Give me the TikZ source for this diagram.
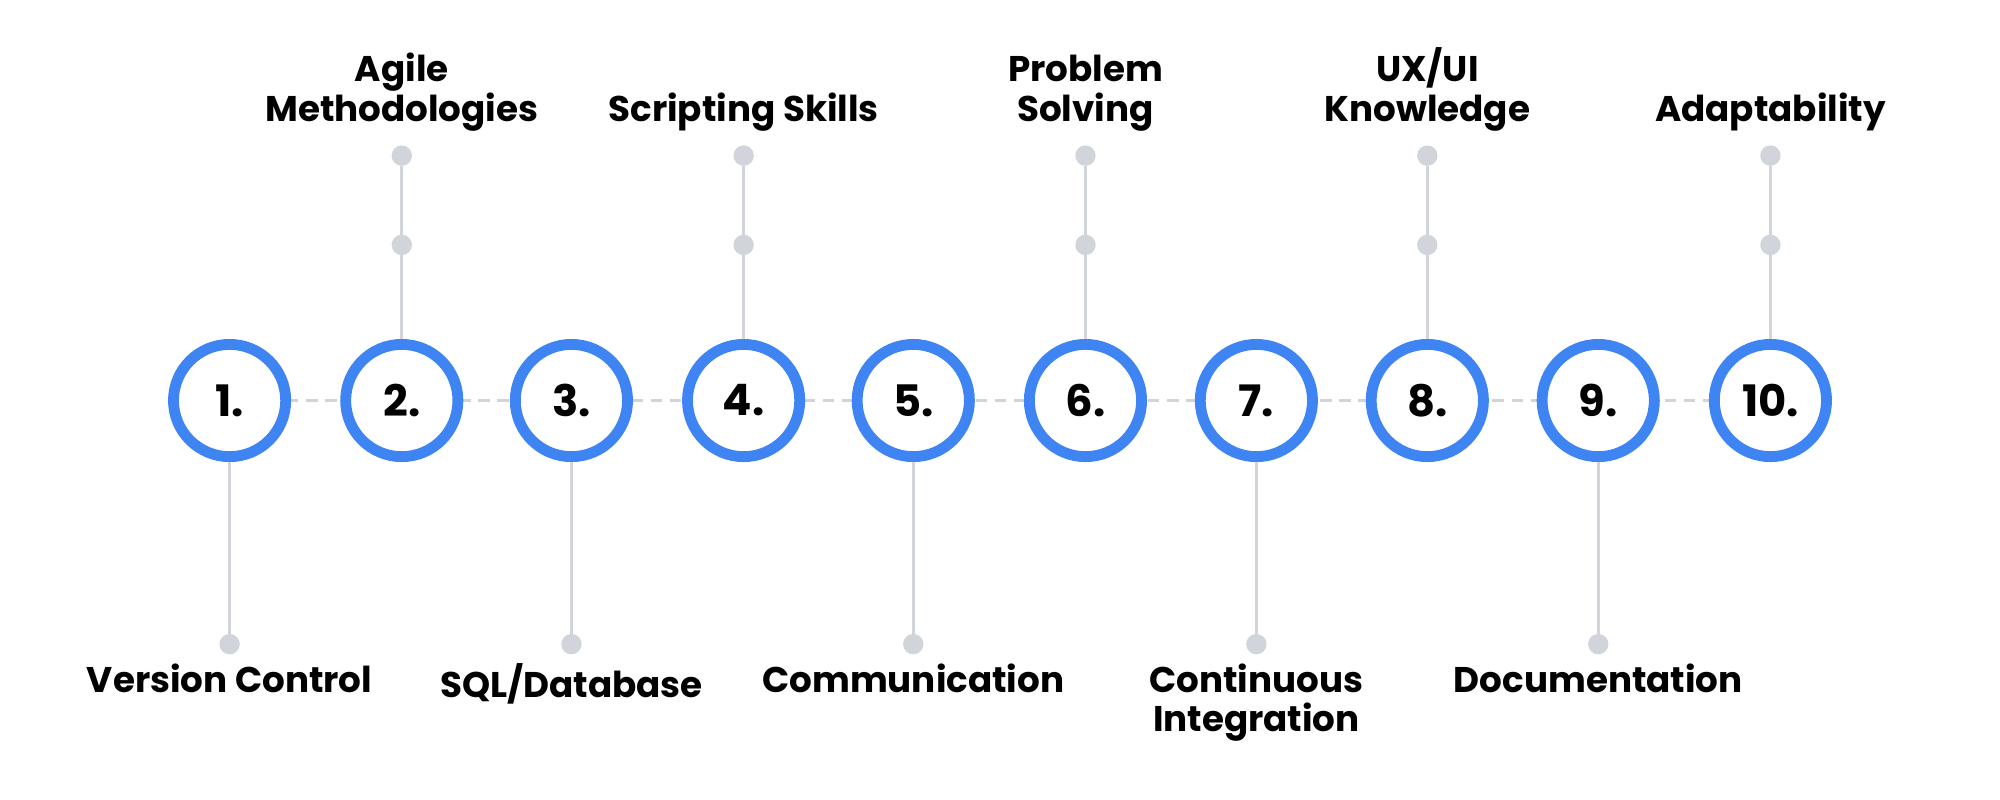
\documentclass[tikz,border=0pt]{standalone}
\usepackage{fontspec}
\setmainfont{Poppins}
\definecolor{ringblue}{HTML}{3F84F3}
\definecolor{lgrey}{HTML}{D1D5DB}
\begin{document}
\begin{tikzpicture}[x=1pt,y=-1pt,
  ring/.style={circle,draw=ringblue,line width=8.5pt,fill=white,minimum size=88pt,inner sep=0pt,font=\bfseries\fontsize{34}{34}\selectfont},
  dot/.style={circle,fill=lgrey,minimum size=16pt,inner sep=0pt},
  conn/.style={draw=lgrey,line width=2.5pt},
  lbl/.style={font=\bfseries\fontsize{28}{31}\selectfont,align=center,inner sep=0pt}]
\useasboundingbox (0,0) rectangle (1568,627);
\foreach \i/\x in {1/180,2/315,3/448,4/583,5/716,6/851,7/985,8/1119,9/1253,10/1388}{
  \coordinate (c\i) at (\x,314);
}
\draw[lgrey,line width=2.5pt,dash pattern=on 9pt off 6pt] (c1) -- (c10);
\foreach \i in {1,...,10}{\node[ring] (n\i) at (c\i) {\i.};}
% top
\foreach \i in {2,4,6,8,10}{
  \node[dot] (d\i) at ([yshift=-192pt]c\i |- 0,0) {};
}
\foreach \i/\x in {2/315,4/583,6/851,8/1119,10/1388}{
  \node[dot] (t\i) at (\x,122) {};
  \draw[conn] (n\i.north) -- (t\i);
}
\foreach \i/\x in {1/180,3/448,5/716,7/985,9/1253}{
  \node[dot] (b\i) at (\x,505) {};
  \draw[conn] (n\i.south) -- (b\i);
}
\node[lbl,anchor=south] (l2) at (315,103) {Agile\\Methodologies};
\node[lbl,anchor=south] (l4) at (583,103) {Scripting Skills};
\node[lbl,anchor=south] (l6) at (851,103) {Problem\\Solving};
\node[lbl,anchor=south] (l8) at (1119,103) {UX/UI\\Knowledge};
\node[lbl,anchor=south] (l10) at (1388,103) {Adaptability};
\node[lbl,anchor=north] (l1) at (180,520) {Version Control};
\node[lbl,anchor=north] (l3) at (448,520) {SQL/Database};
\node[lbl,anchor=north] (l5) at (716,520) {Communication};
\node[lbl,anchor=north] (l7) at (985,520) {Continuous\\Integration};
\node[lbl,anchor=north] (l9) at (1253,520) {Documentation};
\end{tikzpicture}
\end{document}
